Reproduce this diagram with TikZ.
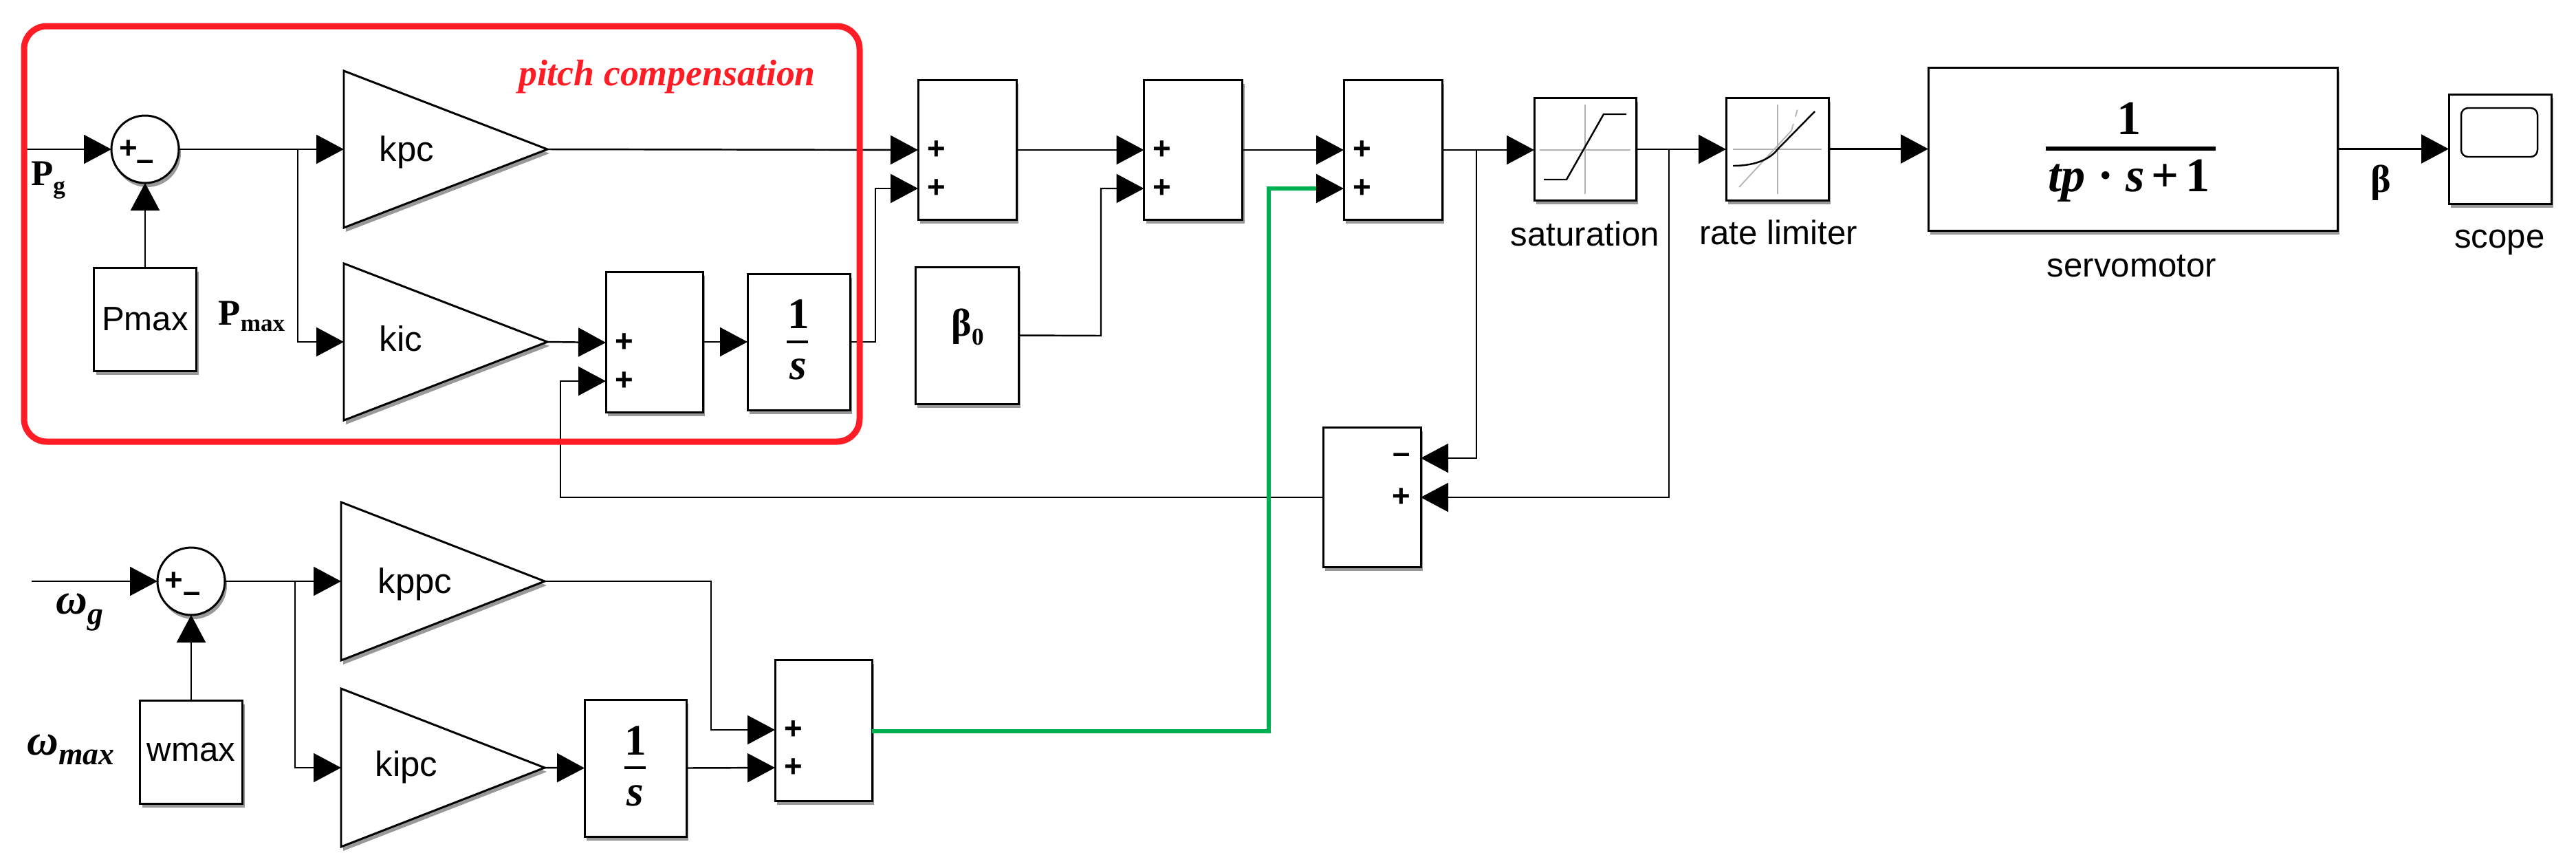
\documentclass[tikz,border=0pt]{standalone}
\usepackage{fontspec}
\setmainfont{Liberation Serif}
\setsansfont{Liberation Sans}
\usetikzlibrary{arrows.meta,calc,positioning,shapes.geometric,shadows}
\definecolor{boxred}{RGB}{255,28,36}
\definecolor{linkgreen}{RGB}{0,176,80}
\tikzset{
  softshadow/.style={drop shadow={shadow xshift=.03cm,shadow yshift=-.06cm,opacity=.4,fill=black}},
  block/.style={draw,line width=.85pt,fill=white,softshadow,inner sep=0pt,outer sep=0pt},
  gain/.style={draw,line width=.85pt,fill=white,softshadow,isosceles triangle,isosceles triangle stretches,
    minimum height=2.96cm,minimum width=2.28cm,inner sep=0pt,outer sep=0pt,anchor=lower side},
  gaintext/.style={font=\sffamily\fontsize{14.5}{16}\selectfont,inner sep=0pt,anchor=base west},
  sumdot/.style={draw,line width=.85pt,fill=white,softshadow,circle,minimum size=.98cm,inner sep=0pt,outer sep=0pt},
  sig/.style={line width=.7pt,-{Triangle[length=.40cm,width=.42cm]}},
  greenwire/.style={line width=1.7pt,draw=linkgreen},
  port/.style={font=\sffamily\bfseries\fontsize{13}{15}\selectfont,inner sep=0pt},
  caption/.style={font=\sffamily\fontsize{14}{16}\selectfont,inner sep=0pt},
  boldlabel/.style={font=\bfseries\fontsize{15}{17}\selectfont,inner sep=0pt},
  greeklabel/.style={font=\bfseries\itshape\fontsize{18}{20}\selectfont,inner sep=0pt},
  fracnum/.style={font=\bfseries\fontsize{18}{20}\selectfont,inner sep=0pt,anchor=base},
  servonum/.style={font=\bfseries\fontsize{20}{22}\selectfont,inner sep=0pt,anchor=base},
  fracbar/.style={line width=1.2pt},
  axisline/.style={line width=.5pt,gray!60}
}
\begin{document}
\begin{tikzpicture}[y=-1cm]
    \useasboundingbox (0,0) rectangle (37.46,12.55);

    % Pitch compensation path
    \node[sumdot] (pgsum) at (2.11,2.17) {};
    \node[port] (pgplus) at (1.87,2.17) {+};
    \node[port] (pgminus) at (2.11,2.40) {--};
    \node[block,minimum width=1.49cm,minimum height=1.50cm,font=\sffamily\fontsize{14}{16}\selectfont] (pmax) at (2.11,4.64) {Pmax};
    \node[gain] (kpc) at (5.00,2.17) {};
    \node[gaintext] (kpctext) at (5.51,2.34) {kpc};
    \node[gain] (kic) at (5.00,4.97) {};
    \node[gaintext] (kictext) at (5.51,5.10) {kic};
    \node[block,minimum width=1.41cm,minimum height=2.04cm] (sumi) at (9.515,4.97) {};
    \node[port] (sumia) at (9.08,4.98) {+};
    \node[port] (sumib) at (9.08,5.54) {+};
    \node[block,minimum width=1.49cm,minimum height=1.98cm] (inti) at (11.615,4.97) {};
    \node[fracnum] (intinum) at (11.61,4.77) {1};
    \node[fracnum] (intiden) at (11.61,5.51) {\itshape s};
    \draw[fracbar] (11.44,4.97) -- (11.75,4.97);

    % Main summing chain
    \node[block,minimum width=1.43cm,minimum height=2.03cm] (sumb) at (14.065,2.175) {};
    \node[port] (sumba) at (13.62,2.18) {+};
    \node[port] (sumbb) at (13.62,2.74) {+};
    \node[block,minimum width=1.43cm,minimum height=2.03cm] (sumc) at (17.35,2.175) {};
    \node[port] (sumca) at (16.90,2.18) {+};
    \node[port] (sumcb) at (16.90,2.74) {+};
    \node[block,minimum width=1.43cm,minimum height=2.03cm] (sumd) at (20.255,2.175) {};
    \node[port] (sumda) at (19.81,2.18) {+};
    \node[port] (sumdb) at (19.81,2.74) {+};
    \node[block,minimum width=1.50cm,minimum height=1.99cm] (betazero) at (14.06,4.875) {};
    \node[boldlabel,font=\bfseries\fontsize{16}{18}\selectfont] (betazerotext) at (14.07,4.75) {β\raisebox{-.5ex}{\fontsize{10}{10}\selectfont 0}};

    % Saturation
    \node[block,minimum width=1.48cm,minimum height=1.49cm] (sat) at (23.05,2.165) {};
    \draw[axisline] (23.05,1.52) -- (23.05,2.82);
    \draw[axisline] (22.39,2.18) -- (23.71,2.18);
    \draw[line width=.7pt] (22.45,2.61) -- (22.78,2.61) -- (23.32,1.66) -- (23.65,1.66);
    \node[caption] (sattext) at (23.05,3.40) {saturation};

    % Rate limiter
    \node[block,minimum width=1.49cm,minimum height=1.49cm] (rate) at (25.845,2.165) {};
    \draw[axisline] (25.85,1.52) -- (25.85,2.82);
    \draw[axisline] (25.20,2.17) -- (26.49,2.17);
    \draw[axisline] (25.29,2.72) -- (26.05,1.90);
    \draw[axisline,dashed] (26.05,1.90) -- (26.15,1.55);
    \draw[line width=.7pt] (25.20,2.41) .. controls (25.55,2.41) and (25.75,2.30) .. (25.85,2.17) -- (26.39,1.62);
    \node[caption] (ratetext) at (25.86,3.38) {rate limiter};

    % Servomotor
    \node[block,minimum width=5.95cm,minimum height=2.37cm] (servo) at (31.015,2.165) {};
    \node[servonum] (servotop) at (30.96,1.95) {1};
    \node[servonum] (servobot) at (30.96,2.78) {\itshape tp\hspace{.25em}\upshape·\hspace{.25em}\itshape s\hspace{.14em}\upshape+\hspace{.14em}1};
    \draw[line width=1.5pt] (29.75,2.16) -- (32.22,2.16);
    \node[caption] (servotext) at (31.00,3.87) {servomotor};
    \node[boldlabel,font=\bfseries\fontsize{16}{18}\selectfont] (betaout) at (34.62,2.66) {β};

    % Scope
    \node[block,minimum width=1.49cm,minimum height=1.59cm] (scope) at (36.355,2.165) {};
    \draw[line width=.7pt,rounded corners=.10cm] (35.79,1.57) rectangle (36.90,2.28);
    \node[caption] (scopetext) at (36.35,3.52) {scope};

    % Anti-windup difference
    \node[block,minimum width=1.42cm,minimum height=2.03cm] (diff) at (19.95,7.225) {};
    \node[port] (diffminus) at (20.38,6.66) {--};
    \node[port] (diffplus) at (20.38,7.23) {+};

    % Speed path
    \node[sumdot] (wsum) at (2.78,8.45) {};
    \node[port] (wplus) at (2.53,8.45) {+};
    \node[port] (wminus) at (2.79,8.68) {--};
    \node[block,minimum width=1.49cm,minimum height=1.50cm,font=\sffamily\fontsize{14}{16}\selectfont] (wmax) at (2.78,10.93) {wmax};
    \node[gain,minimum width=2.30cm] (kppc) at (4.96,8.45) {};
    \node[gaintext] (kppctext) at (5.49,8.62) {kppc};
    \node[gain,minimum width=2.30cm] (kipc) at (4.96,11.16) {};
    \node[gaintext] (kipctext) at (5.45,11.28) {kipc};
    \node[block,minimum width=1.48cm,minimum height=1.99cm] (intw) at (9.24,11.165) {};
    \node[fracnum] (intwnum) at (9.24,10.97) {1};
    \node[fracnum] (intwden) at (9.24,11.71) {\itshape s};
    \draw[fracbar] (9.08,11.16) -- (9.39,11.16);
    \node[block,minimum width=1.41cm,minimum height=2.05cm] (sume) at (11.975,10.615) {};
    \node[port] (sumea) at (11.54,10.61) {+};
    \node[port] (sumeb) at (11.54,11.16) {+};

    % Signal labels
    \node[boldlabel] (pgtext) at (.70,2.62) {P\raisebox{-.5ex}{\fontsize{10}{10}\selectfont g}};
    \node[boldlabel] (pmaxtext) at (3.66,4.60) {P\raisebox{-.4ex}{\fontsize{10}{10}\selectfont max}};
    \node[greeklabel] (wgtext) at (1.16,8.90) {ω\raisebox{-.5ex}{\fontsize{13}{13}\selectfont g}};
    \node[greeklabel] (wmaxtext) at (1.03,10.90) {ω\raisebox{-.5ex}{\fontsize{13}{13}\selectfont max}};
    \node[font=\bfseries\itshape\fontsize{15.3}{17}\selectfont,text=boxred,inner sep=0pt] (pitchtext) at (9.70,1.12) {pitch compensation};

    % Connectors
    \coordinate (pgstart) at (.39,2.17);
    \coordinate (pgfork) at (4.33,2.17);
    \coordinate (wstart) at (.46,8.45);
    \coordinate (wfork) at (4.29,8.45);
    \coordinate (satfork) at (21.47,2.18);
    \coordinate (ratefork) at (24.27,2.17);
    \coordinate (intiturn) at (12.73,4.97);
    \coordinate (betaturn) at (16.01,4.88);
    \coordinate (diffturn) at (8.15,7.23);
    \coordinate (kppcturn) at (10.34,8.45);
    \coordinate (greenturn) at (18.45,10.63);

    \draw[sig] (pgstart) -- (pgsum);
    \draw[sig] (pmax.north) -- (pgsum.south);
    \draw[sig] (pgsum) -- (kpc.lower side);
    \draw[sig] (pgfork) |- (kic.lower side);
    \draw[sig] (kic.apex) -- (sumia -| sumi.west);
    \draw[sig] (sumi.east |- inti.west) -- (inti.west);
    \draw[sig] (kpc.apex) -- (sumba -| sumb.west);
    \draw[sig] (inti.east) -- (intiturn) |- (sumbb -| sumb.west);
    \draw[sig] (sumb.east |- sumca) -- (sumca -| sumc.west);
    \draw[sig] (betazero.east) -- (betaturn) |- (sumcb -| sumc.west);
    \draw[sig] (sumc.east |- sumda) -- (sumda -| sumd.west);
    \draw[sig] (sumd.east |- sumda) -- (sat.west |- sumda);
    \draw[sig] (sat.east |- ratefork) -- (rate.west |- ratefork);
    \draw[sig] (rate.east) -- (servo.west);
    \draw[sig] (servo.east) -- (scope.west);
    \draw[sig] (satfork) |- (diffminus -| diff.east);
    \draw[sig] (ratefork) |- (diffplus -| diff.east);
    \draw[sig] (diff.west |- diffplus) -- (diffturn) |- (sumib -| sumi.west);
    \draw[sig] (wstart) -- (wsum);
    \draw[sig] (wmax.north) -- (wsum.south);
    \draw[sig] (wsum) -- (kppc.lower side);
    \draw[sig] (wfork) |- (kipc.lower side);
    \draw[sig] (kipc.apex) -- (intw.west);
    \draw[sig] (intw.east) -- (sumeb -| sume.west);
    \draw[sig] (kppc.apex) -- (kppcturn) |- (sumea -| sume.west);
    \draw[greenwire] (sume.east |- greenturn) -- (greenturn) -- (greenturn |- sumdb) -- ($(sumdb -| sumd.west)+(-.40,0)$);
    \draw[sig] ($(sumdb -| sumd.west)+(-.40,0)$) -- (sumdb -| sumd.west);

    % Red frame around the pitch compensation
    \node[draw=boxred,line width=.09cm,rounded corners=.33cm,minimum width=12.15cm,minimum height=6.04cm,inner sep=0pt] (pitchbox) at (6.425,3.40) {};
\end{tikzpicture}
\end{document}
